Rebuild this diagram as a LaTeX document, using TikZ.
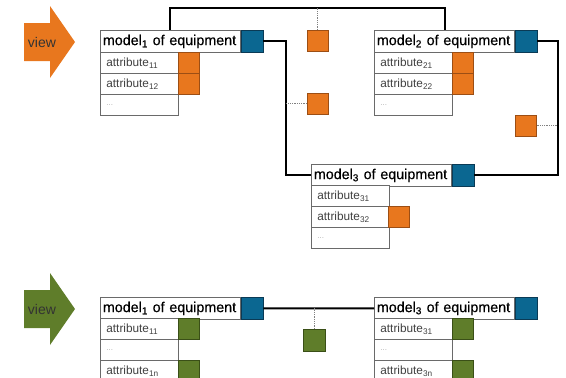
\documentclass[tikz,border=0pt]{standalone}
\usepackage{fontspec}
\setmainfont{Liberation Sans}
\newfontfamily\headfont[FakeBold=0.5]{Liberation Sans}
\usetikzlibrary{calc}

\definecolor{eqorange}{HTML}{E8771E}
\definecolor{eqorangeline}{HTML}{9C4E14}
\definecolor{eqblue}{HTML}{0B6791}
\definecolor{eqblueline}{HTML}{0A3A55}
\definecolor{eqgreen}{HTML}{5F7D2A}
\definecolor{eqgreenline}{HTML}{3A4F17}
\definecolor{boxline}{HTML}{6A6A6A}
\definecolor{attrtext}{HTML}{404040}

\tikzset{
  header/.style={draw=boxline, line width=0.8pt, fill=white, anchor=north west,
    minimum width=140pt, minimum height=22pt, inner xsep=2.5pt, inner ysep=0pt,
    text width=135pt, align=left, font=\headfont\fontsize{14.3}{15}\selectfont, text=black},
  attr/.style={draw=boxline, line width=0.8pt, fill=white, anchor=north west,
    minimum width=78pt, minimum height=21pt, inner xsep=6pt, inner ysep=0pt,
    text width=66pt, align=left, font=\fontsize{11.8}{12}\selectfont, text=attrtext},
  dotsrow/.style={attr, text=gray!60, font=\fontsize{8}{9}\selectfont},
  keysq/.style={draw=eqblueline, fill=eqblue, line width=0.6pt, anchor=north west,
    minimum width=22pt, minimum height=22pt, inner sep=0pt},
  osq/.style={draw=eqorangeline, fill=eqorange, line width=0.6pt, anchor=north west,
    minimum size=21pt, inner sep=0pt},
  gsq/.style={osq, draw=eqgreenline, fill=eqgreen},
  link/.style={line width=2pt, black},
  weak/.style={line width=0.8pt, gray, densely dotted},
  viewtext/.style={font=\fontsize{14}{14}\selectfont, text=black!80, inner sep=0pt}
}

\begin{document}
\begin{tikzpicture}[x=1pt, y=-1pt]
\useasboundingbox (0,0) rectangle (566,378);

% ---------- upper view ----------
\fill[eqorange] (24,23) -- (50,23) -- (50,6) -- (75,42) -- (50,78) -- (50,61) -- (24,61) -- cycle;
\node[viewtext] (view1) at (42,42) {view};

% model 1
\node[header] (m1h) at (100,30) {model\textsubscript{1} of equipment};
\node[keysq] (m1k) at (m1h.north east) {};
\node[attr] (m1a) at (100,52) {attribute\textsubscript{11}};
\node[attr] (m1b) at (100,73) {attribute\textsubscript{12}};
\node[dotsrow] (m1c) at (100,94) {...};
\node[osq] (m1sa) at (178,52) {};
\node[osq] (m1sb) at (178,73) {};

% model 2
\node[header] (m2h) at (374,30) {model\textsubscript{2} of equipment};
\node[keysq] (m2k) at (m2h.north east) {};
\node[attr] (m2a) at (374,52) {attribute\textsubscript{21}};
\node[attr] (m2b) at (374,73) {attribute\textsubscript{22}};
\node[dotsrow] (m2c) at (374,94) {...};
\node[osq] (m2sa) at (452,52) {};
\node[osq] (m2sb) at (452,73) {};

% model 3
\node[header] (m3h) at (311,164) {model\textsubscript{3} of equipment};
\node[keysq] (m3k) at (m3h.north east) {};
\node[attr] (m3a) at (311,185) {attribute\textsubscript{31}};
\node[attr] (m3b) at (311,206) {attribute\textsubscript{32}};
\node[dotsrow] (m3c) at (311,227) {...};
\node[osq] (m3sb) at (388,206) {};

% relation squares
\node[osq] (rA) at (307,30) {};
\node[osq] (rB) at (307,93) {};
\node[osq] (rC) at (515,115) {};

\coordinate (topy) at (0,8);
\coordinate (leftx) at (286,0);
\coordinate (rightx) at (558,0);

\draw[link] ($(m1h.north west)+(70,0)$) -- ++(0,-22) -| ($(m2h.north west)+(71,0)$);
\draw[link] (m1k.east) -- (m1k.east -| leftx) |- (m3h.west);
\draw[link] (m2k.east) -- (m2k.east -| rightx) |- (m3k.east);
\draw[weak] (rA.north) -- (rA.north |- topy);
\draw[weak] (rB.west) -- (rB.west -| leftx);
\draw[weak] (rC.east) -- (rC.east -| rightx);

% ---------- lower view ----------
\begin{scope}[shift={(0,267)}]
\fill[eqgreen] (24,23) -- (50,23) -- (50,6) -- (75,42) -- (50,78) -- (50,61) -- (24,61) -- cycle;
\node[viewtext] (view2) at (42,42) {view};
\end{scope}

\node[header] (b1h) at (100,297) {model\textsubscript{1} of equipment};
\node[keysq] (b1k) at (b1h.north east) {};
\node[attr] (b1a) at (100,318) {attribute\textsubscript{11}};
\node[dotsrow] (b1b) at (100,339) {...};
\node[attr] (b1c) at (100,360) {attribute\textsubscript{1n}};
\node[gsq] (b1sa) at (178,318) {};
\node[gsq] (b1sc) at (178,360) {};

\node[header] (b3h) at (374,297) {model\textsubscript{3} of equipment};
\node[keysq] (b3k) at (b3h.north east) {};
\node[attr] (b3a) at (374,318) {attribute\textsubscript{31}};
\node[dotsrow] (b3b) at (374,339) {...};
\node[attr] (b3c) at (374,360) {attribute\textsubscript{3n}};
\node[gsq] (b3sa) at (452,318) {};
\node[gsq] (b3sc) at (452,360) {};

\node[gsq, minimum size=22pt] (rG) at (303,329) {};

\draw[link] (b1k.east) -- (b3h.west);
\draw[weak] (rG.north) -- (rG.north |- b1k.east);
\end{tikzpicture}
\end{document}
